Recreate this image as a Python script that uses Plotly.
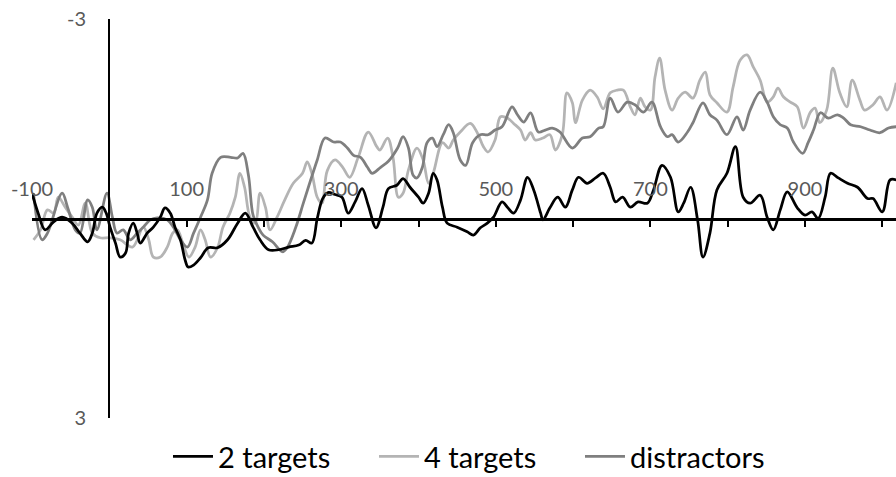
import plotly.graph_objects as go

# ---- data (time in ms, amplitude in µV; y-axis drawn negative-up) ----
t_2targets = [-100,-92,-83,-72,-61,-48,-38,-28,-22,-16,-9,-4,1,8,14,21,25,31,36,40,49,57,66,72,79,85,92,98,102,109,
              118,128,140,153,166,176,186,195,206,219,232,245,254,262,269,276,283,292,301,309,318,327,335,345,354,361,
              372,380,389,400,406,413,419,424,431,437,450,463,471,480,489,497,508,515,523,532,541,549,558,561,570,580,
              590,599,607,618,629,639,648,655,664,674,684,696,704,715,726,736,743,752,761,768,777,786,799,810,820,829,
              842,851,859,868,877,890,900,909,917,926,933,943,955,968,981,988,1000,1010,1018]
v_2targets = [-0.38,-0.08,0.17,0.05,-0.02,0.07,0.22,0.35,0.22,-0.08,-0.17,-0.08,0.13,0.37,0.58,0.52,0.22,0.07,0.22,0.37,
              0.22,0.13,-0.02,-0.16,-0.08,0.13,0.32,0.62,0.73,0.70,0.59,0.44,0.44,0.32,0.07,-0.08,0.13,0.32,0.47,0.47,
              0.43,0.40,0.33,0.37,0.00,-0.30,-0.39,-0.36,-0.32,-0.08,-0.25,-0.45,-0.20,0.14,-0.17,-0.45,-0.50,-0.60,
              -0.47,-0.32,-0.23,-0.38,-0.68,-0.58,-0.17,0.07,0.13,0.20,0.25,0.14,0.07,-0.02,-0.25,-0.17,-0.08,-0.28,
              -0.62,-0.43,-0.08,0.02,-0.16,-0.32,-0.17,-0.43,-0.62,-0.53,-0.61,-0.68,-0.47,-0.25,-0.32,-0.17,-0.25,
              -0.23,-0.43,-0.80,-0.62,-0.10,-0.23,-0.47,0.02,0.58,0.22,-0.43,-0.68,-1.08,-0.32,-0.23,-0.35,-0.02,0.17,
              -0.13,-0.40,-0.16,-0.05,-0.10,0.00,-0.32,-0.68,-0.61,-0.53,-0.47,-0.30,-0.30,-0.10,-0.58,-0.58]

t_4targets = [-98,-89,-80,-72,-66,-57,-48,-40,-31,-22,-12,1,14,30,44,51,57,66,75,82,88,95,103,111,118,124,131,140,147,
              156,163,169,175,182,189,195,202,208,217,227,238,250,256,262,269,275,282,292,302,311,322,335,346,350,360,
              367,374,380,387,398,406,413,419,431,439,445,454,467,476,484,490,499,506,515,523,532,538,545,551,561,570,
              577,586,592,599,603,612,622,631,639,648,657,665,674,680,687,693,700,706,712,719,728,736,745,755,764,771,
              777,786,799,807,816,825,833,842,851,859,865,872,881,890,898,907,913,919,928,936,945,954,961,971,977,988,
              997,1006,1018]
v_4targets = [0.32,0.17,-0.13,-0.08,-0.32,-0.17,-0.02,0.10,-0.23,0.22,0.29,0.29,0.32,0.43,0.13,0.32,0.58,0.58,0.43,0.22,
              0.17,0.37,0.58,0.43,0.17,0.32,0.58,0.44,0.13,-0.08,-0.32,-0.68,-0.47,-0.02,0.07,-0.38,-0.17,0.17,-0.02,
              -0.28,-0.53,-0.68,-0.85,-0.68,-0.32,-0.23,-0.72,-0.88,-0.77,-0.62,-0.92,-1.30,-1.08,-1.03,-1.21,-0.92,
              -0.32,-0.38,-0.73,-1.06,-0.88,-0.53,-0.68,-1.14,-1.06,-1.18,-1.30,-1.43,-1.29,-1.08,-1.00,-1.18,-1.53,
              -1.51,-1.43,-1.33,-1.18,-1.29,-1.18,-1.21,-1.26,-1.03,-1.26,-1.89,-1.74,-1.44,-1.78,-1.93,-1.83,-1.65,
              -1.89,-1.93,-1.93,-1.68,-1.56,-1.81,-1.68,-1.63,-2.13,-2.41,-1.93,-1.63,-1.81,-1.90,-1.81,-2.08,-2.20,
              -1.86,-1.74,-1.60,-1.98,-2.38,-2.46,-2.28,-2.08,-1.75,-1.83,-1.96,-1.83,-1.75,-1.68,-1.36,-1.60,-1.66,
              -1.44,-1.63,-2.26,-1.89,-1.68,-2.08,-1.78,-1.63,-1.71,-1.83,-1.63,-2.04]

t_distractors = [-98,-87,-80,-61,-54,-44,-38,-28,-22,-16,-3,4,10,18,27,36,44,53,62,75,83,92,101,109,118,127,133,144,157,
                 166,173,180,186,193,199,211,224,230,241,251,260,269,279,290,299,308,316,325,334,340,351,361,373,380,
                 387,393,398,405,411,418,424,432,439,445,454,461,470,480,490,499,508,521,528,536,545,555,564,573,583,
                 599,612,622,633,639,648,658,670,680,691,702,713,722,728,736,748,755,768,777,786,799,812,820,829,842,
                 851,859,868,877,885,897,904,911,920,930,942,950,959,972,984,997,1008,1018]
v_distractors = [-0.38,0.32,0.22,-0.38,-0.17,0.17,0.22,-0.28,-0.17,0.17,-0.38,-0.02,0.22,0.17,0.32,0.22,0.13,0.02,-0.01,
                 0.02,0.13,0.32,0.43,0.22,-0.02,-0.28,-0.68,-0.92,-0.92,-0.91,-0.98,-0.65,-0.05,0.14,0.25,0.35,0.50,
                 0.44,0.14,-0.23,-0.56,-0.88,-1.21,-1.15,-1.15,-1.06,-0.95,-0.92,-0.77,-0.68,-0.77,-0.86,-1.06,-1.23,
                 -1.06,-0.65,-0.61,-0.77,-1.14,-1.21,-1.08,-1.26,-1.41,-1.29,-0.88,-0.80,-1.14,-1.26,-1.26,-1.33,-1.38,
                 -1.68,-1.56,-1.45,-1.59,-1.30,-1.33,-1.36,-1.30,-1.06,-1.21,-1.23,-1.36,-1.38,-1.81,-1.60,-1.75,-1.71,
                 -1.60,-1.75,-1.38,-1.23,-1.26,-1.15,-1.30,-1.44,-1.74,-1.56,-1.48,-1.26,-1.53,-1.33,-1.63,-1.90,-1.75,
                 -1.53,-1.41,-1.36,-1.15,-0.98,-1.14,-1.33,-1.59,-1.51,-1.56,-1.51,-1.41,-1.38,-1.33,-1.29,-1.36,-1.38]

x_tick_values = [-100, 0, 100, 200, 300, 400, 500, 600, 700, 800, 900, 1000]
x_tick_labels = ["-100", "", "100", "", "300", "", "500", "", "700", "", "900", ""]
y_tick_values = [-3, 3]
y_tick_labels = ["-3", "3"]

FONT = "Lato"
fig = go.Figure()
fig.add_trace(go.Scatter(x=t_4targets, y=v_4targets, mode="lines", name="4 targets", legendrank=2,
                         line=dict(color="#b4b4b4", width=2.75, shape="spline", smoothing=1.0)))
fig.add_trace(go.Scatter(x=t_distractors, y=v_distractors, mode="lines", name="distractors", legendrank=3,
                         line=dict(color="#7f7f7f", width=2.75, shape="spline", smoothing=1.0)))
fig.add_trace(go.Scatter(x=t_2targets, y=v_2targets, mode="lines", name="2 targets", legendrank=1,
                         line=dict(color="#000000", width=2.75, shape="spline", smoothing=1.0)))

fig.update_layout(
    width=896, height=477,
    margin=dict(l=32, r=0, t=19, b=59, autoexpand=False),
    paper_bgcolor="white", plot_bgcolor="white",
    font=dict(family=FONT, color="#595959"),
    showlegend=True,
    legend=dict(orientation="h", x=0.1574, xanchor="left", y=-0.0965, yanchor="middle",
                font=dict(family=FONT, size=29, color="#000000"),
                itemwidth=40, entrywidth=151, entrywidthmode="pixels", bgcolor="rgba(0,0,0,0)"),
    xaxis=dict(range=[-100, 1017.7], anchor="free", position=0.5, side="top",
               showline=True, linecolor="#000000", linewidth=2.5,
               showgrid=False, zeroline=False,
               tickmode="array", tickvals=x_tick_values, ticktext=x_tick_labels,
               ticks="inside", ticklen=7, tickwidth=2, tickcolor="#000000",
               ticklabelstandoff=14,
               tickfont=dict(family=FONT, size=20, color="#595959")),
    yaxis=dict(range=[3, -3], anchor="free", position=(109 - 32) / 864, side="left",
               showline=True, linecolor="#000000", linewidth=2,
               showgrid=False, zeroline=False,
               tickmode="array", tickvals=y_tick_values, ticktext=y_tick_labels,
               ticks="", ticklabelstandoff=18,
               tickfont=dict(family=FONT, size=20, color="#595959")),
)

fig.write_html("out.html", config={"displayModeBar": False},
               post_script="document.body.style.margin='0px';")
